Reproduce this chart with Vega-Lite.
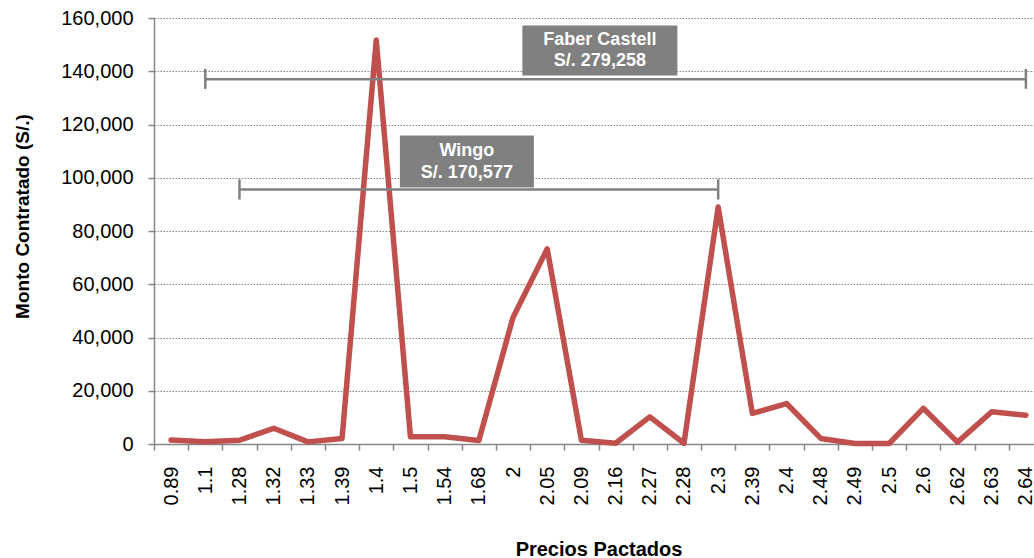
{
  "$schema": "https://vega.github.io/schema/vega-lite/v6.json",
  "autosize": {"type": "none"},
  "padding": {"left": 154, "top": 18, "right": 0, "bottom": 114},
  "width": 880,
  "height": 426,
  "background": "white",
  "config": {
    "view": {"stroke": null},
    "font": "Liberation Sans",
    "axis": {
      "labelFont": "Liberation Sans",
      "titleFont": "Liberation Sans",
      "labelColor": "#000000",
      "titleColor": "#000000",
      "domainColor": "#868686",
      "tickColor": "#868686",
      "domainWidth": 1.5,
      "tickWidth": 1.5
    }
  },
  "datasets": {
    "serie": [
      {"Precio": "0.89", "Monto": 1500},
      {"Precio": "1.1", "Monto": 800},
      {"Precio": "1.28", "Monto": 1400},
      {"Precio": "1.32", "Monto": 5900},
      {"Precio": "1.33", "Monto": 800},
      {"Precio": "1.39", "Monto": 2100},
      {"Precio": "1.4", "Monto": 151700},
      {"Precio": "1.5", "Monto": 2700},
      {"Precio": "1.54", "Monto": 2700},
      {"Precio": "1.68", "Monto": 1300},
      {"Precio": "2", "Monto": 47500},
      {"Precio": "2.05", "Monto": 73300},
      {"Precio": "2.09", "Monto": 1400},
      {"Precio": "2.16", "Monto": 300},
      {"Precio": "2.27", "Monto": 10200},
      {"Precio": "2.28", "Monto": 300},
      {"Precio": "2.3", "Monto": 89000},
      {"Precio": "2.39", "Monto": 11500},
      {"Precio": "2.4", "Monto": 15200},
      {"Precio": "2.48", "Monto": 2100},
      {"Precio": "2.49", "Monto": 200},
      {"Precio": "2.5", "Monto": 200},
      {"Precio": "2.6", "Monto": 13400},
      {"Precio": "2.62", "Monto": 700},
      {"Precio": "2.63", "Monto": 12100},
      {"Precio": "2.64", "Monto": 10800}
    ],
    "tramos": [
      {"Marca": "Faber Castell", "Precio": "1.1", "PrecioFin": "2.64", "Monto": 137000},
      {"Marca": "Wingo", "Precio": "1.28", "PrecioFin": "2.3", "Monto": 95600}
    ],
    "topes": [
      {"Marca": "Faber Castell", "Precio": "1.1", "Monto": 133400, "MontoFin": 140900},
      {"Marca": "Faber Castell", "Precio": "2.64", "Monto": 133400, "MontoFin": 140900},
      {"Marca": "Wingo", "Precio": "1.28", "Monto": 91800, "MontoFin": 99400},
      {"Marca": "Wingo", "Precio": "2.3", "Monto": 91800, "MontoFin": 99400}
    ],
    "cuadros": [
      {"Marca": "Faber Castell", "Precio": "2.16", "Monto": 147800, "Texto": "Faber Castell\nS/. 279,258"},
      {"Marca": "Wingo", "Precio": "1.68", "Monto": 106100, "Texto": "Wingo\nS/. 170,577"}
    ]
  },
  "encoding": {
    "x": {
      "field": "Precio",
      "type": "nominal",
      "sort": null,
      "scale": {
        "type": "band",
        "domain": ["0.89", "1.1", "1.28", "1.32", "1.33", "1.39", "1.4", "1.5", "1.54", "1.68", "2", "2.05", "2.09", "2.16", "2.27", "2.28", "2.3", "2.39", "2.4", "2.48", "2.49", "2.5", "2.6", "2.62", "2.63", "2.64"],
        "range": [0, 889],
        "paddingInner": 0,
        "paddingOuter": 0
      },
      "axis": {
        "title": "Precios Pactados",
        "titleFontSize": 20,
        "titleFontWeight": "bold",
        "titleX": 444.5,
        "titleY": 111,
        "titleBaseline": "alphabetic",
        "titleAnchor": null,
        "titleAlign": "center",
        "labelAngle": -90,
        "labelAlign": "right",
        "labelBaseline": "middle",
        "labelFontSize": 20,
        "labelPadding": 16,
        "tickBand": "extent",
        "tickSize": 6,
        "grid": false
      }
    },
    "y": {
      "field": "Monto",
      "type": "quantitative",
      "scale": {"domain": [0, 160000], "nice": false, "zero": true},
      "axis": {
        "title": "Monto Contratado (S/.)",
        "titleFontSize": 19,
        "titleFontWeight": "bold",
        "titleX": -132,
        "titleY": 198,
        "titleAngle": -90,
        "titleAlign": "center",
        "titleBaseline": "middle",
        "titleAnchor": null,
        "values": [0, 20000, 40000, 60000, 80000, 100000, 120000, 140000, 160000],
        "format": ",.0f",
        "labelFontSize": 20,
        "labelPadding": 15,
        "tickSize": 6,
        "grid": true,
        "gridColor": "#868686",
        "gridDash": [1.5, 1.5],
        "gridWidth": 1
      }
    }
  },
  "layer": [
    {
      "data": {"name": "serie"},
      "mark": {"type": "line", "color": "#C0504D", "strokeWidth": 5.5, "strokeJoin": "round", "strokeCap": "round"}
    },
    {
      "data": {"name": "tramos"},
      "mark": {"type": "rule", "color": "#808080", "strokeWidth": 2.5},
      "encoding": {
        "x2": {"field": "PrecioFin"}
      }
    },
    {
      "data": {"name": "topes"},
      "mark": {"type": "rule", "color": "#808080", "strokeWidth": 2.5},
      "encoding": {
        "y2": {"field": "MontoFin"}
      }
    },
    {
      "data": {"name": "cuadros"},
      "transform": [{"filter": "datum.Marca == 'Faber Castell'"}],
      "mark": {"type": "point", "filled": true, "opacity": 1, "color": "#808080", "strokeWidth": 0, "shape": "M-1,-0.3226L1,-0.3226L1,0.3226L-1,0.3226Z", "size": 24025},
      "encoding": {
        "x": {"field": "Precio", "type": "nominal", "bandPosition": 0.04}
      }
    },
    {
      "data": {"name": "cuadros"},
      "transform": [{"filter": "datum.Marca == 'Wingo'"}],
      "mark": {"type": "point", "filled": true, "opacity": 1, "color": "#808080", "strokeWidth": 0, "shape": "M-1,-0.388L1,-0.388L1,0.388L-1,0.388Z", "size": 17956},
      "encoding": {
        "x": {"field": "Precio", "type": "nominal", "bandPosition": 0.15}
      }
    },
    {
      "data": {"name": "cuadros"},
      "transform": [{"filter": "datum.Marca == 'Faber Castell'"}],
      "mark": {"type": "text", "color": "white", "fontSize": 18, "fontWeight": "bold", "lineBreak": "\n", "lineHeight": 21, "align": "center", "baseline": "middle", "dy": -10},
      "encoding": {
        "x": {"field": "Precio", "type": "nominal", "bandPosition": 0.04},
        "text": {"field": "Texto"}
      }
    },
    {
      "data": {"name": "cuadros"},
      "transform": [{"filter": "datum.Marca == 'Wingo'"}],
      "mark": {"type": "text", "color": "white", "fontSize": 18, "fontWeight": "bold", "lineBreak": "\n", "lineHeight": 22, "align": "center", "baseline": "middle", "dy": -11},
      "encoding": {
        "x": {"field": "Precio", "type": "nominal", "bandPosition": 0.15},
        "text": {"field": "Texto"}
      }
    }
  ]
}
